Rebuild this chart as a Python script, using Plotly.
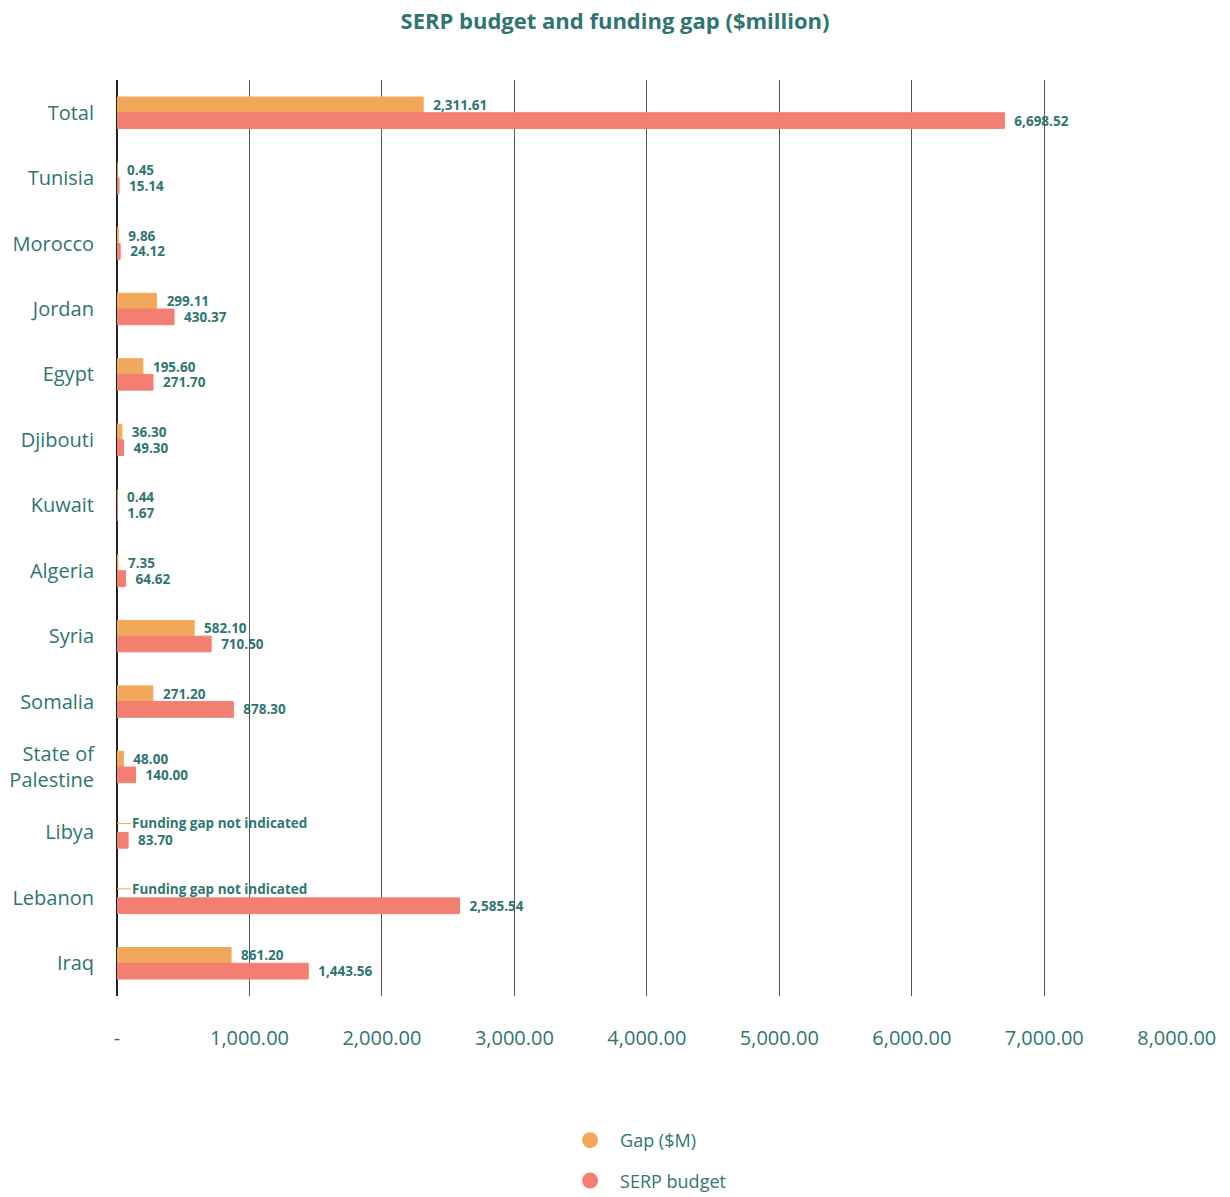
import plotly.graph_objects as go

categories = ["Total", "Tunisia", "Morocco", "Jordan", "Egypt", "Djibouti", "Kuwait",
              "Algeria", "Syria", "Somalia", "State of<br>Palestine", "Libya", "Lebanon", "Iraq"]
gap_values = [2311.61, 0.45, 9.86, 299.11, 195.60, 36.30, 0.44, 7.35, 582.10, 271.20,
              48.00, None, None, 861.20]
serp_values = [6698.52, 15.14, 24.12, 430.37, 271.70, 49.30, 1.67, 64.62, 710.50, 878.30,
               140.00, 83.70, 2585.54, 1443.56]
missing_gap_label = "Funding gap not indicated"
x_tickvals = [0, 1000, 2000, 3000, 4000, 5000, 6000, 7000, 8000]
x_ticktext = ["-", "1,000.00", "2,000.00", "3,000.00", "4,000.00", "5,000.00",
              "6,000.00", "7,000.00", "8,000.00"]

TEAL = "#2f7572"
ORANGE = "#f2a85b"
SALMON = "#f27f72"
FONT = "Open Sans"
NB = "\u00a0\u00a0"
VAL_SIZE = 13.5

fig = go.Figure()
fig.add_trace(go.Bar(
    y=categories, x=gap_values, orientation="h", name="Gap ($M)",
    marker=dict(color=ORANGE, line=dict(color=ORANGE, width=1)), showlegend=False,
    texttemplate=NB + "%{x:,.2f}", textposition="outside", cliponaxis=False,
    constraintext="none",
    textfont=dict(family=FONT, size=VAL_SIZE, color=TEAL, weight="bold"),
))
fig.add_trace(go.Bar(
    y=categories, x=serp_values, orientation="h", name="SERP budget",
    marker=dict(color=SALMON, line=dict(color=SALMON, width=1)), showlegend=False,
    texttemplate=NB + "%{x:,.2f}", textposition="outside", cliponaxis=False,
    constraintext="none",
    textfont=dict(family=FONT, size=VAL_SIZE, color=TEAL, weight="bold"),
))
# legend entries with circle markers
fig.add_trace(go.Scatter(x=[None], y=[None], mode="markers", name="Gap ($M)",
                         marker=dict(color=ORANGE, size=18, symbol="circle"),
                         legendgroup="a"))
fig.add_trace(go.Scatter(x=[None], y=[None], mode="markers", name="SERP budget",
                         marker=dict(color=SALMON, size=18, symbol="circle"),
                         legendgroup="b"))

for cat, g in zip(categories, gap_values):
    if g is None:
        fig.add_annotation(
            x=0, y=cat, xref="x", yref="y", yshift=9,
            text="<b>" + missing_gap_label + "</b>", showarrow=True,
            arrowhead=1, arrowsize=0.6, arrowwidth=1, arrowcolor=ORANGE,
            ax=14, ay=0, xanchor="left", borderpad=0,
            font=dict(family=FONT, size=13.5, color=TEAL),
        )

fig.update_layout(
    width=1230, height=1197,
    margin=dict(l=117, r=53, t=80, b=201, autoexpand=False),
    paper_bgcolor="white", plot_bgcolor="white",
    barmode="group", bargap=0.52, bargroupgap=0,
    title=dict(text="<b>SERP budget and funding gap ($million)</b>", x=0.5, xanchor="center",
               y=0.982, yanchor="middle",
               font=dict(family=FONT, size=22, color=TEAL)),
    xaxis=dict(range=[0, 8002], tickvals=x_tickvals, ticktext=x_ticktext,
               showgrid=True, gridcolor="#555555", gridwidth=1,
               zeroline=True, zerolinecolor="#222222", zerolinewidth=1.5,
               showline=False, ticklabelstandoff=28,
               tickfont=dict(family=FONT, size=20, color=TEAL)),
    yaxis=dict(categoryorder="array", categoryarray=categories, autorange="reversed",
               showgrid=False, ticklabelstandoff=22,
               tickfont=dict(family=FONT, size=20, color=TEAL)),
    legend=dict(orientation="v", x=0.418, xanchor="left", yref="container",
                y=1 - 1122 / 1197, yanchor="top",
                font=dict(family=FONT, size=18, color=TEAL), tracegroupgap=14,
                itemwidth=50),
)

fig.write_html("out.html")
